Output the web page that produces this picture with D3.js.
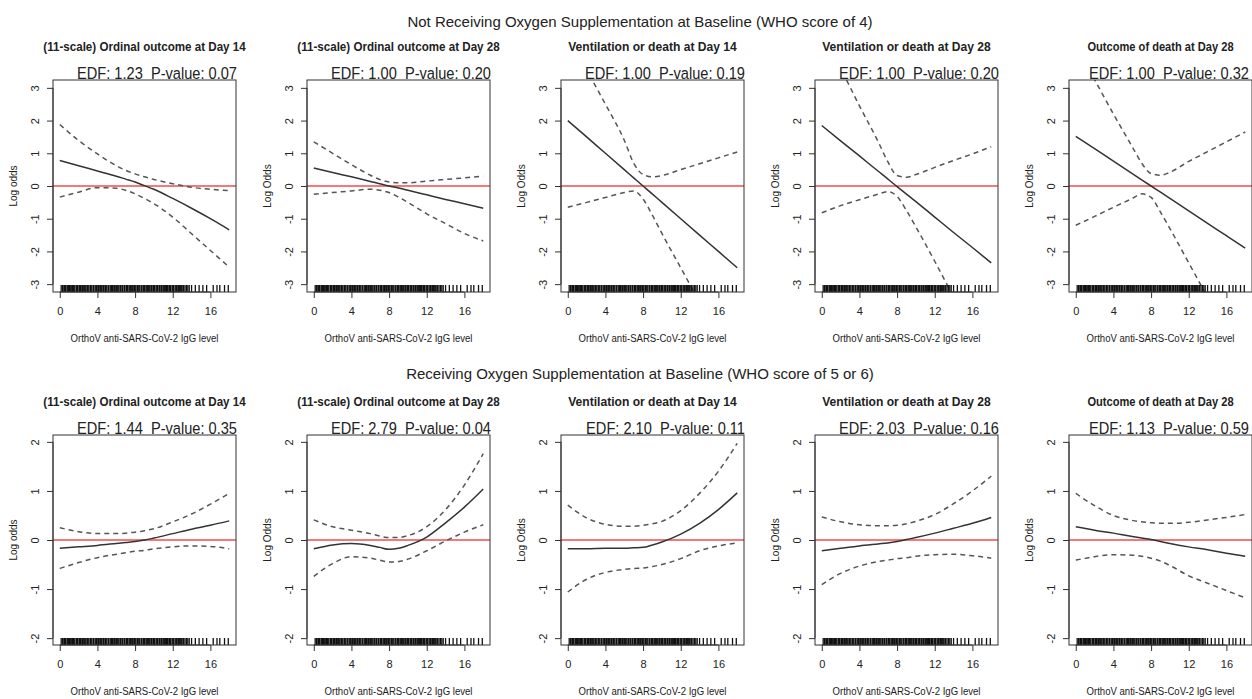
<!DOCTYPE html>
<html>
<head>
<meta charset="utf-8">
<script src="https://cdn.jsdelivr.net/npm/d3@7"></script>
<style>
  body { margin: 0; background: #fff; }
  svg { display: block; }
  text { fill: #222; white-space: pre; }
</style>
</head>
<body>
<div id="chart"></div>
<script>

// x grid shared by every smooth (IgG level)
const grid = [0, 2, 4, 6, 7, 8, 9, 10, 12, 14, 16, 18];

const rowTitles = [
    "Not Receiving Oxygen Supplementation at Baseline (WHO score of 4)",
    "Receiving Oxygen Supplementation at Baseline (WHO score of 5 or 6)"
];

const panelTitles = [
    "(11-scale) Ordinal outcome at Day 14",
    "(11-scale) Ordinal outcome at Day 28",
    "Ventilation or death at Day 14",
    "Ventilation or death at Day 28",
    "Outcome of death at Day 28"
];

const yLabels = ["Log odds", "Log Odds", "Log Odds", "Log Odds", "Log Odds"];

const edfTop = ["1.23", "1.00", "1.00", "1.00", "1.00"];
const pTop = ["0.07", "0.20", "0.19", "0.20", "0.32"];
const edfBottom = ["1.44", "2.79", "2.10", "2.03", "1.13"];
const pBottom = ["0.35", "0.04", "0.11", "0.16", "0.59"];

const xTicks = [0, 4, 8, 12, 16];
const yTicksTop = [-3, -2, -1, 0, 1, 2, 3];
const yTicksBottom = [-2, -1, 0, 1, 2];

// top row: not receiving oxygen
const fitTop = [
    [0.78, 0.62, 0.46, 0.30, 0.21, 0.12, 0.01, -0.10, -0.38, -0.68, -1.00, -1.34],
    [0.55, 0.41, 0.28, 0.14, 0.07, 0.00, -0.06, -0.13, -0.27, -0.41, -0.54, -0.68],
    [2.00, 1.50, 1.00, 0.50, 0.25, 0.00, -0.25, -0.50, -1.00, -1.50, -2.00, -2.50],
    [1.85, 1.38, 0.92, 0.45, 0.22, -0.02, -0.25, -0.48, -0.95, -1.42, -1.88, -2.35],
    [1.52, 1.14, 0.76, 0.38, 0.19, 0.00, -0.19, -0.38, -0.76, -1.14, -1.52, -1.90]
];
const upperTop = [
    [1.88, 1.39, 0.98, 0.62, 0.48, 0.37, 0.28, 0.20, 0.07, -0.04, -0.10, -0.14],
    [1.35, 1.00, 0.65, 0.33, 0.20, 0.12, 0.10, 0.10, 0.15, 0.20, 0.25, 0.30],
    [4.60, 3.55, 2.50, 1.40, 0.70, 0.35, 0.28, 0.32, 0.50, 0.68, 0.86, 1.04],
    [4.70, 3.60, 2.45, 1.35, 0.75, 0.32, 0.27, 0.35, 0.57, 0.78, 0.98, 1.20],
    [4.30, 3.25, 2.20, 1.20, 0.70, 0.38, 0.33, 0.42, 0.75, 1.05, 1.35, 1.65]
];
const lowerTop = [
    [-0.34, -0.19, -0.05, -0.07, -0.13, -0.24, -0.38, -0.54, -0.95, -1.46, -1.97, -2.48],
    [-0.25, -0.20, -0.15, -0.10, -0.13, -0.20, -0.34, -0.50, -0.85, -1.15, -1.45, -1.68],
    [-0.65, -0.50, -0.35, -0.20, -0.15, -0.40, -0.90, -1.45, -2.50, -3.55, -4.60, -5.60],
    [-0.82, -0.60, -0.42, -0.25, -0.17, -0.32, -0.75, -1.25, -2.30, -3.40, -4.50, -5.60],
    [-1.20, -0.93, -0.65, -0.38, -0.24, -0.35, -0.80, -1.30, -2.35, -3.40, -4.45, -5.50]
];

// bottom row: receiving oxygen
const fitBottom = [
    [-0.17, -0.14, -0.11, -0.07, -0.05, -0.03, 0.00, 0.04, 0.13, 0.22, 0.30, 0.39],
    [-0.18, -0.10, -0.07, -0.11, -0.15, -0.19, -0.17, -0.11, 0.06, 0.35, 0.67, 1.04],
    [-0.18, -0.18, -0.17, -0.17, -0.16, -0.15, -0.10, -0.04, 0.12, 0.34, 0.62, 0.96],
    [-0.22, -0.17, -0.12, -0.08, -0.06, -0.03, 0.01, 0.05, 0.14, 0.24, 0.34, 0.46],
    [0.27, 0.20, 0.14, 0.07, 0.04, 0.01, -0.03, -0.07, -0.14, -0.20, -0.27, -0.33]
];
const upperBottom = [
    [0.25, 0.17, 0.13, 0.13, 0.14, 0.16, 0.19, 0.23, 0.37, 0.53, 0.73, 0.95],
    [0.41, 0.27, 0.20, 0.13, 0.08, 0.05, 0.05, 0.09, 0.27, 0.62, 1.12, 1.76],
    [0.71, 0.45, 0.32, 0.28, 0.28, 0.30, 0.33, 0.38, 0.60, 0.95, 1.40, 1.97],
    [0.47, 0.37, 0.31, 0.29, 0.29, 0.30, 0.33, 0.38, 0.52, 0.74, 1.00, 1.30],
    [0.95, 0.70, 0.50, 0.40, 0.37, 0.35, 0.34, 0.34, 0.36, 0.41, 0.46, 0.52]
];
const lowerBottom = [
    [-0.58, -0.46, -0.36, -0.29, -0.26, -0.23, -0.21, -0.18, -0.14, -0.12, -0.13, -0.18],
    [-0.74, -0.48, -0.34, -0.37, -0.41, -0.45, -0.44, -0.39, -0.22, -0.02, 0.16, 0.31],
    [-1.06, -0.80, -0.66, -0.60, -0.58, -0.57, -0.54, -0.50, -0.38, -0.22, -0.12, -0.06],
    [-0.91, -0.68, -0.53, -0.44, -0.41, -0.38, -0.36, -0.33, -0.30, -0.29, -0.32, -0.37],
    [-0.41, -0.34, -0.30, -0.31, -0.33, -0.37, -0.43, -0.52, -0.73, -0.88, -1.03, -1.18]
];

// observed IgG levels (rug)
const rugValues = [
    0.15, 0.3, 0.35, 0.5, 0.6, 0.65, 0.8, 0.9, 0.95, 1.05, 1.1, 1.2, 1.3, 1.35, 1.45, 1.5,
    1.6, 1.75, 1.8, 1.9, 2.05, 2.1, 2.2, 2.35, 2.4, 2.55, 2.6, 2.7, 2.8, 2.95, 3.0, 3.1,
    3.25, 3.3, 3.4, 3.55, 3.6, 3.75, 3.85, 3.9, 4.05, 4.1, 4.25, 4.35, 4.4, 4.5, 4.65, 4.7,
    4.85, 4.9, 5.0, 5.15, 5.2, 5.35, 5.45, 5.5, 5.6, 5.75, 5.8, 5.95, 6.05, 6.1, 6.2, 6.3,
    6.45, 6.5, 6.65, 6.7, 6.85, 6.9, 7.05, 7.1, 7.2, 7.35, 7.45, 7.5, 7.65, 7.7, 7.8, 7.95,
    8.0, 8.1, 8.25, 8.3, 8.4, 8.5, 8.65, 8.7, 8.85, 8.9, 9.0, 9.15, 9.25, 9.3, 9.45, 9.5,
    9.6, 9.75, 9.8, 9.95, 10.05, 10.1, 10.25, 10.35, 10.4, 10.55, 10.6, 10.75, 10.8, 10.95,
    11.05, 11.1, 11.25, 11.35, 11.45, 11.5, 11.65, 11.75, 11.8, 11.95, 12.05, 12.1, 12.25,
    12.35, 12.4, 12.55, 12.6, 12.7, 12.85, 12.9, 13.0, 13.15, 13.3, 13.45, 13.6, 13.75,
    14.0, 14.4, 14.8, 15.2, 15.6, 16.3, 16.7, 17.0, 17.5, 17.9
];

const W = 1252, H = 699;
const boxW = 183, boxStep = 254, boxLeft0 = 53;
const rows = [
    { top: 80, bottom: 292, domain: [-3.24, 3.24], ticks: yTicksTop, title: rowTitles[0], titleY: 27,
      fit: fitTop, upper: upperTop, lower: lowerTop, edf: edfTop, p: pTop },
    { top: 435, bottom: 645, domain: [-2.14, 2.14], ticks: yTicksBottom, title: rowTitles[1], titleY: 379,
      fit: fitBottom, upper: upperBottom, lower: lowerBottom, edf: edfBottom, p: pBottom }
];

const font = "'Liberation Sans', Arial, sans-serif";
const hyphenNum = (d) => String(d);   // R style "-3", not a unicode minus

const svg = d3.select("#chart").append("svg")
    .attr("width", W)
    .attr("height", H);

rows.forEach(function(row, r) {

    svg.append("text")
        .attr("x", 640)
        .attr("y", row.titleY)
        .attr("text-anchor", "middle")
        .style("font-family", font)
        .style("font-size", "15px")
        .text(row.title);

    const y = d3.scaleLinear().domain(row.domain).range([row.bottom, row.top]);

    panelTitles.forEach(function(title, i) {
        const left = boxLeft0 + i * boxStep;
        const x = d3.scaleLinear().domain([-0.72, 18.72]).range([left, left + boxW]);
        const cx = left + boxW / 2;
        const g = svg.append("g");

        g.append("text")
            .attr("x", cx)
            .attr("y", row.top - 29)
            .attr("text-anchor", "middle")
            .style("font-family", font)
            .style("font-weight", "bold")
            .style("font-size", "12px")
            .attr("textLength", title.length * 5.62)
            .attr("lengthAdjust", "spacingAndGlyphs")
            .text(title);

        // condensed like the original; last panel kept inside the page edge
        const edfX = Math.min(left + boxW + 1, W - 3);
        g.append("text")
            .attr("transform", "translate(" + edfX + "," + (row.top - 1) + ") scale(0.86,1)")
            .attr("text-anchor", "end")
            .style("font-family", font)
            .style("font-size", "17px")
            .text("EDF: " + row.edf[i] + "  P-value: " + row.p[i]);

        // clip lines to the plot box like R does
        const clipId = "clip" + r + "_" + i;
        svg.append("clipPath").attr("id", clipId)
            .append("rect")
            .attr("x", left).attr("y", row.top)
            .attr("width", boxW).attr("height", row.bottom - row.top);

        const plot = g.append("g").attr("clip-path", "url(#" + clipId + ")");

        plot.append("line")
            .attr("x1", left).attr("x2", left + boxW)
            .attr("y1", y(0)).attr("y2", y(0))
            .attr("stroke", "#f27a7a")
            .attr("stroke-width", 2);

        const line = d3.line()
            .x((d, k) => x(grid[k]))
            .y((d) => y(d))
            .curve(d3.curveMonotoneX);

        plot.append("path")
            .attr("d", line(row.upper[i]))
            .attr("fill", "none")
            .attr("stroke", "#555")
            .attr("stroke-width", 1.5)
            .attr("stroke-dasharray", "5,4");

        plot.append("path")
            .attr("d", line(row.lower[i]))
            .attr("fill", "none")
            .attr("stroke", "#555")
            .attr("stroke-width", 1.5)
            .attr("stroke-dasharray", "5,4");

        plot.append("path")
            .attr("d", line(row.fit[i]))
            .attr("fill", "none")
            .attr("stroke", "#333")
            .attr("stroke-width", 1.5);

        // rug
        plot.selectAll(".rug")
            .data(rugValues)
            .enter().append("line")
            .attr("x1", (d) => x(d)).attr("x2", (d) => x(d))
            .attr("y1", row.bottom).attr("y2", row.bottom - 7)
            .attr("stroke", "#111")
            .attr("stroke-width", 1.3);

        // box
        g.append("rect")
            .attr("x", left).attr("y", row.top)
            .attr("width", boxW).attr("height", row.bottom - row.top)
            .attr("fill", "none")
            .attr("stroke", "#333")
            .attr("stroke-width", 1);

        // x axis
        const xAxis = g.append("g")
            .attr("transform", "translate(0," + row.bottom + ")")
            .call(d3.axisBottom(x).tickValues(xTicks).tickFormat(hyphenNum)
                .tickSize(6).tickPadding(9).tickSizeOuter(0));
        xAxis.select(".domain")
            .attr("d", "M" + x(xTicks[0]) + ",0H" + x(xTicks[xTicks.length - 1]));
        xAxis.selectAll("text")
            .style("font-family", font)
            .style("font-size", "11px")
            .attr("fill", "#333");
        xAxis.selectAll("line, path").attr("stroke", "#333");

        // y axis
        const yAxis = g.append("g")
            .attr("transform", "translate(" + left + ",0)")
            .call(d3.axisLeft(y).tickValues(row.ticks).tickFormat(hyphenNum)
                .tickSize(6).tickSizeOuter(0));
        yAxis.select(".domain")
            .attr("d", "M0," + y(row.ticks[0]) + "V" + y(row.ticks[row.ticks.length - 1]));
        yAxis.selectAll("line, path").attr("stroke", "#333");
        yAxis.selectAll("text")
            .attr("x", null).attr("dy", null)
            .attr("text-anchor", "middle")
            .attr("transform", "translate(-14,0) rotate(-90)")
            .style("font-family", font)
            .style("font-size", "11px")
            .attr("fill", "#333");

        g.append("text")
            .attr("transform", "translate(" + (left - 40) + "," + ((row.top + row.bottom) / 2) + ") rotate(-90)")
            .attr("text-anchor", "middle")
            .attr("dy", "0.35em")
            .style("font-family", font)
            .style("font-size", "10px")
            .attr("fill", "#333")
            .text(yLabels[i]);

        g.append("text")
            .attr("x", cx)
            .attr("y", row.bottom + 50)
            .attr("text-anchor", "middle")
            .style("font-family", font)
            .style("font-size", "10px")
            .attr("textLength", 148)
            .attr("lengthAdjust", "spacingAndGlyphs")
            .attr("fill", "#333")
            .text("OrthoV anti-SARS-CoV-2 IgG level");
    });
});

</script>
</body>
</html>
